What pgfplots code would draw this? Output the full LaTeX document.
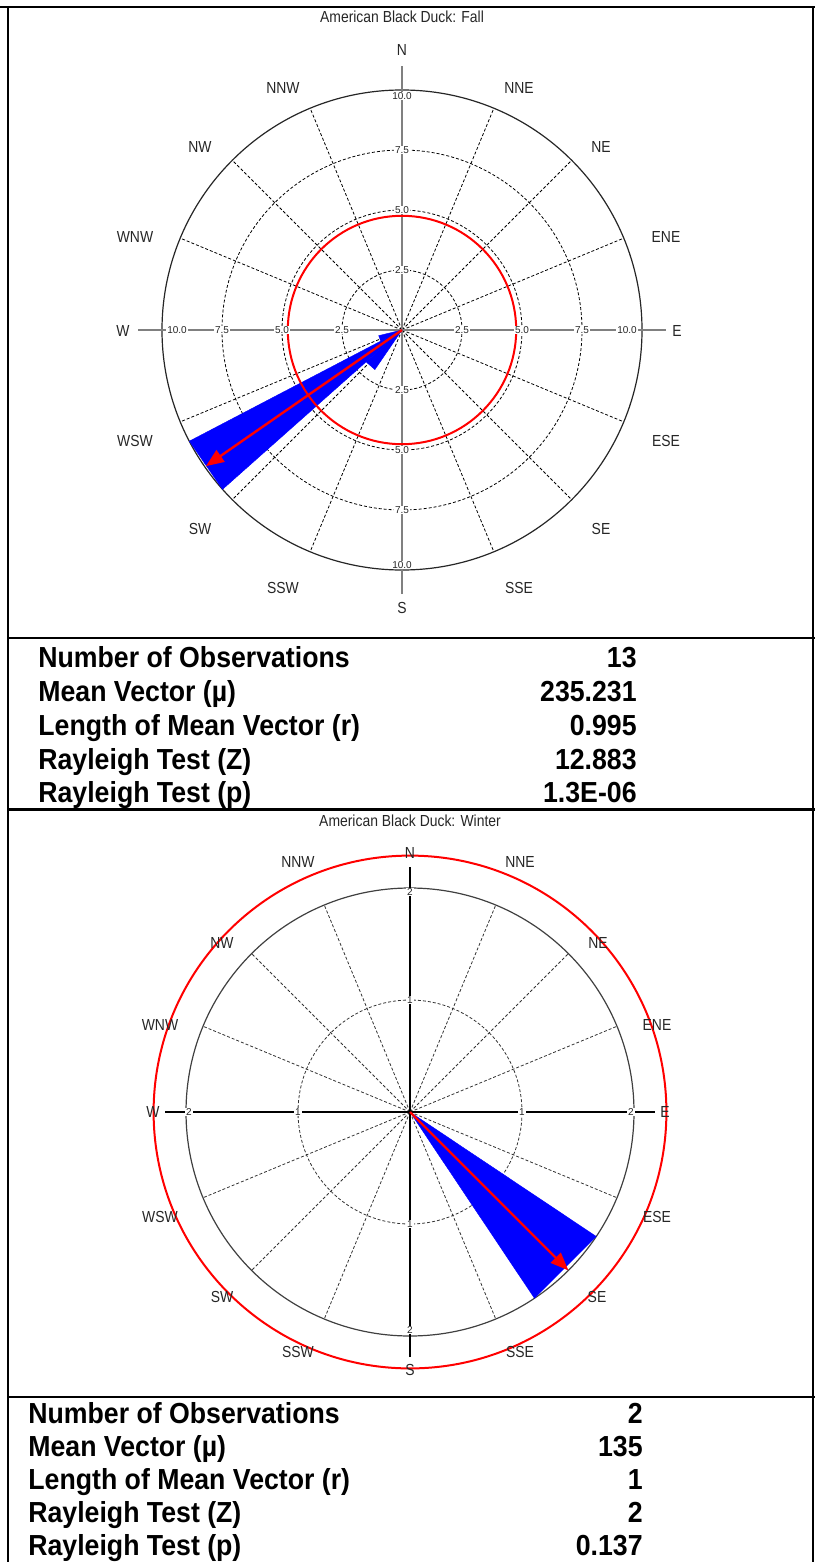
\documentclass[border=0pt]{standalone}
\usepackage{pgfplots}
\pgfplotsset{compat=1.18}
\usepackage{fontspec}
\setmainfont{Liberation Sans}
\usetikzlibrary{arrows.meta}
\newcommand{\nar}[1]{\scalebox{0.87}[1]{#1}}
\newcommand{\nars}[1]{\scalebox{0.92}[1]{#1}}

\begin{document}
\begin{tikzpicture}[x=0.5pt,y=-0.5pt]
\useasboundingbox (0,0) rectangle (815,1562);
% ---------- frame ----------
\draw[line width=1pt] (0,7) -- (815,7);
\draw[line width=1pt] (8,7) -- (8,1562);
\draw[line width=1pt] (813,7) -- (813,1562);
\draw[line width=1pt] (8,638) -- (815,638);
\draw[line width=1.5pt] (8,809) -- (815,809);
\draw[line width=1pt] (8,1397) -- (815,1397);

% ================= FALL =================
\node[font=\fontsize{8}{9}\selectfont, text=black!85] at (402,17) {\nar{American Black Duck: Fall}};
\begin{scope}[shift={(402,330)}]
  \foreach \r in {30pt,60pt,90pt}
    \draw[dash pattern=on 1.5pt off 1pt, line width=0.4pt] (0,0) circle[radius=\r];
  \foreach \a in {22.5,45,67.5,112.5,135,157.5,202.5,225,247.5,292.5,315,337.5}
    \draw[dash pattern=on 1.5pt off 1pt, line width=0.4pt] (0,0) -- (\a:120pt);
  \draw[line width=0.6pt, black!85] (0,0) circle[radius=120pt];
  \draw[gray, line width=0.9pt] (-132pt,0) -- (132pt,0) (0,-132pt) -- (0,132pt);
\end{scope}

\begin{axis}[at={(201pt,-165pt)}, anchor=center, x=12pt, y=12pt,
  xmin=-12, xmax=12, ymin=-12, ymax=12, hide axis, clip=false]
\addplot[fill=blue, draw=blue, line width=0.2pt] table[x expr={\thisrow{r}*sin(\thisrow{b})}, y expr={\thisrow{r}*cos(\thisrow{b})}] {
b r
0 0
214.4 2
228.4 2
0 0
};
\addplot[fill=blue, draw=blue, line width=0.2pt] table[x expr={\thisrow{r}*sin(\thisrow{b})}, y expr={\thisrow{r}*cos(\thisrow{b})}] {
b r
0 0
228.4 10
242.4 10
0 0
};
\addplot[fill=blue, draw=blue, line width=0.2pt] table[x expr={\thisrow{r}*sin(\thisrow{b})}, y expr={\thisrow{r}*cos(\thisrow{b})}] {
b r
0 0
242.4 1
256.4 1
0 0
};
\draw[red, line width=1pt] (axis cs:0,0) circle[radius=57.1pt];
\addplot[red, line width=1.2pt, -{Triangle[length=9pt,width=7pt]}] table[x expr={\thisrow{r}*sin(\thisrow{b})}, y expr={\thisrow{r}*cos(\thisrow{b})}] {
b r
0 0
235.231 9.95
};
\end{axis}

\begin{scope}[shift={(402,330)}, every node/.style={font=\fontsize{5}{6}\selectfont, fill=white, inner sep=0.4pt, text=black!85}]
  \node at (0,30pt) {2.5}; \node at (0,60pt) {5.0}; \node at (0,90pt) {7.5}; \node at (0,117pt) {10.0};
  \node at (0,-30pt) {2.5}; \node at (0,-60pt) {5.0}; \node at (0,-90pt) {7.5}; \node at (0,-117.5pt) {10.0};
  \node at (-30pt,0) {2.5}; \node at (-60pt,0) {5.0}; \node at (-90pt,0) {7.5}; \node at (-112.5pt,0) {10.0};
  \node at (30pt,0) {2.5}; \node at (60pt,0) {5.0}; \node at (90pt,0) {7.5}; \node at (112.5pt,0) {10.0};
\end{scope}

\begin{scope}[every node/.style={font=\fontsize{8}{9}\selectfont, text=black!85}]
  \node at (402,50) {\nar{N}}; \node at (519,88) {\nar{NNE}}; \node at (601,147) {\nar{NE}}; \node at (666,237) {\nar{ENE}};
  \node at (677,331) {\nar{E}}; \node at (666,441) {\nar{ESE}}; \node at (601,529) {\nar{SE}}; \node at (519,588) {\nar{SSE}};
  \node at (402,608) {\nar{S}}; \node at (283,588) {\nar{SSW}}; \node at (200,529) {\nar{SW}}; \node at (135,441) {\nar{WSW}};
  \node at (123,331) {\nar{W}}; \node at (135,237) {\nar{WNW}}; \node at (200,147) {\nar{NW}}; \node at (283,88) {\nar{NNW}};
\end{scope}

% Fall statistics
\begin{scope}[every node/.style={font=\fontsize{14.5}{16}\selectfont\bfseries, inner sep=0}]
  \node[anchor=base west] at (38,667) {\nars{Number of Observations}};
  \node[anchor=base west] at (38,701) {\nars{Mean Vector (µ)}};
  \node[anchor=base west] at (38,735) {\nars{Length of Mean Vector (r)}};
  \node[anchor=base west] at (38,769) {\nars{Rayleigh Test (Z)}};
  \node[anchor=base west] at (38,802) {\nars{Rayleigh Test (p)}};
  \node[anchor=base east] at (637,667) {\nars{13}};
  \node[anchor=base east] at (637,701) {\nars{235.231}};
  \node[anchor=base east] at (637,735) {\nars{0.995}};
  \node[anchor=base east] at (637,769) {\nars{12.883}};
  \node[anchor=base east] at (637,802) {\nars{1.3E-06}};
\end{scope}

% ================= WINTER =================
\node[font=\fontsize{8}{9}\selectfont, text=black!85] at (410,821) {\nar{American Black Duck: Winter}};
\begin{scope}[shift={(410,1112)}]
  \draw[dash pattern=on 1.5pt off 1pt, line width=0.4pt, black!80] (0,0) circle[radius=56pt];
  \foreach \a in {22.5,45,67.5,112.5,135,157.5,202.5,225,247.5,292.5,315,337.5}
    \draw[dash pattern=on 1.5pt off 1pt, line width=0.4pt, black!80] (0,0) -- (\a:112pt);
  \draw[line width=0.6pt, black!75] (0,0) circle[radius=112pt];
  \draw[black, line width=0.6pt] (-122.5pt,0) -- (122.5pt,0) (0,-122.5pt) -- (0,122.5pt);
\end{scope}

\begin{axis}[at={(205pt,-556pt)}, anchor=center, x=56pt, y=56pt,
  xmin=-2.4, xmax=2.4, ymin=-2.4, ymax=2.4, hide axis, clip=false]
\addplot[fill=blue, draw=blue, line width=0.2pt] table[x expr={\thisrow{r}*sin(\thisrow{b})}, y expr={\thisrow{r}*cos(\thisrow{b})}] {
b r
0 0
123.75 2
146.25 2
0 0
};
\draw[red, line width=1pt] (axis cs:0,0) circle[radius=128.2pt];
\addplot[red, line width=1.2pt, -{Triangle[length=9pt,width=7pt]}] table[x expr={\thisrow{r}*sin(\thisrow{b})}, y expr={\thisrow{r}*cos(\thisrow{b})}] {
b r
0 0
135 2
};
\end{axis}

\begin{scope}[shift={(410,1112)}, every node/.style={font=\fontsize{5}{6}\selectfont, fill=white, inner sep=0.4pt, text=black!85}]
  \node at (0,56pt) {1}; \node at (0,110pt) {2};
  \node at (0,-56pt) {1}; \node at (0,-109pt) {2};
  \node at (-56pt,0) {1}; \node at (-110.5pt,0) {2};
  \node at (56pt,0) {1}; \node at (110.5pt,0) {2};
\end{scope}

\begin{scope}[every node/.style={font=\fontsize{8}{9}\selectfont, text=black!85}]
  \node at (410,853) {\nar{N}}; \node at (520,862) {\nar{NNE}}; \node at (598,943) {\nar{NE}}; \node at (657,1025) {\nar{ENE}};
  \node at (665,1112) {\nar{E}}; \node at (657,1217) {\nar{ESE}}; \node at (597,1297) {\nar{SE}}; \node at (520,1352) {\nar{SSE}};
  \node at (410,1370) {\nar{S}}; \node at (298,1352) {\nar{SSW}}; \node at (222,1297) {\nar{SW}}; \node at (160,1217) {\nar{WSW}};
  \node at (153,1112) {\nar{W}}; \node at (160,1025) {\nar{WNW}}; \node at (222,943) {\nar{NW}}; \node at (298,862) {\nar{NNW}};
\end{scope}

% Winter statistics
\begin{scope}[every node/.style={font=\fontsize{14.5}{16}\selectfont\bfseries, inner sep=0}]
  \node[anchor=base west] at (28,1423) {\nars{Number of Observations}};
  \node[anchor=base west] at (28,1456) {\nars{Mean Vector (µ)}};
  \node[anchor=base west] at (28,1489) {\nars{Length of Mean Vector (r)}};
  \node[anchor=base west] at (28,1522) {\nars{Rayleigh Test (Z)}};
  \node[anchor=base west] at (28,1555) {\nars{Rayleigh Test (p)}};
  \node[anchor=base east] at (643,1423) {\nars{2}};
  \node[anchor=base east] at (643,1456) {\nars{135}};
  \node[anchor=base east] at (643,1489) {\nars{1}};
  \node[anchor=base east] at (643,1522) {\nars{2}};
  \node[anchor=base east] at (643,1555) {\nars{0.137}};
\end{scope}
\end{tikzpicture}
\end{document}
